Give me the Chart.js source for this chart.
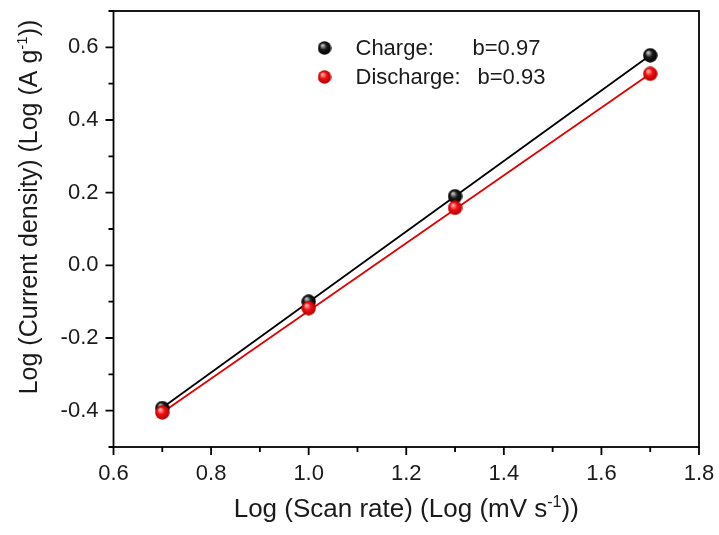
<!DOCTYPE html>
<html lang="en">
  <head>
    <meta charset="UTF-8">
    <title>Log current density vs log scan rate</title>
    <script src="https://cdn.jsdelivr.net/npm/chart.js@4.4.1/dist/chart.umd.min.js"></script>
    <style>
      html, body { margin: 0; padding: 0; background: #fff; }
      #wrap { width: 719px; height: 535px; }
    </style>
  </head>
  <body>
    <div id="wrap"><canvas id="chart" width="719" height="535"></canvas></div>
    <script>
    // values
    const logScanRate = [0.7, 1.0, 1.3, 1.7];
    const chargeVals = [-0.393, -0.100, 0.190, 0.578];
    const dischargeVals = [-0.405, -0.118, 0.158, 0.527];

    // fitted lines (end points)
    const fitX = [0.7, 1.7];
    const chargeFit = [-0.392, 0.578];
    const dischargeFit = [-0.405, 0.527];

    const legendLabels = ['Charge:', 'Discharge:'];
    const legendSlopes = ['b=0.97', 'b=0.93'];

    // axis titles, [normal, superscript, normal]
    const xTitle = ['Log (Scan rate) (Log (mV s', '-1', '))'];
    const yTitle = ['Log (Current density) (Log (A g', '-1', '))'];

    const FONT = '"Liberation Sans", Arial, sans-serif';
    const TEXT = '#1a1a1a';

    function sphere(size, light, mid, dark) {
      const c = document.createElement('canvas');
      c.width = size; c.height = size;
      const g = c.getContext('2d');
      const r = size / 2;
      const grad = g.createRadialGradient(r * 0.7, r * 0.6, 0.5, r, r, r);
      grad.addColorStop(0, light);
      grad.addColorStop(0.45, mid);
      grad.addColorStop(1, dark);
      g.fillStyle = grad;
      g.beginPath();
      g.arc(r, r, r - 0.3, 0, Math.PI * 2);
      g.fill();
      return c;
    }

    const blackBall = sphere(15, '#c8c8c8', '#1a1a1a', '#000');
    const redBall = sphere(15, '#ffb8b8', '#f01010', '#b00000');
    const blackBallSm = sphere(14, '#c8c8c8', '#1a1a1a', '#000');
    const redBallSm = sphere(14, '#ffb8b8', '#f01010', '#b00000');

    function toXY(xs, ys) {
      return xs.map((x, i) => ({ x: x, y: ys[i] }));
    }

    function tickLabel(value) {
      const t = Math.round(value * 10);
      if (t % 2 !== 0) return '';
      return (t / 10).toFixed(1);
    }

    // text with one superscript, centred on (cx, cy)
    function supText(ctx, parts, cx, cy, size) {
      const big = size + 'px ' + FONT;
      const small = Math.round(size * 0.6) + 'px ' + FONT;
      ctx.font = big;
      const w0 = ctx.measureText(parts[0]).width;
      const w2 = ctx.measureText(parts[2]).width;
      ctx.font = small;
      const w1 = ctx.measureText(parts[1]).width;
      let x = cx - (w0 + w1 + w2) / 2;
      const base = cy + size * 0.36;
      ctx.textBaseline = 'alphabetic';
      ctx.textAlign = 'left';
      ctx.font = big;
      ctx.fillText(parts[0], x, base);
      x += w0;
      ctx.font = small;
      ctx.fillText(parts[1], x, base - size * 0.4);
      x += w1;
      ctx.font = big;
      ctx.fillText(parts[2], x, base);
    }

    // box, outward ticks, titles and legend
    const framePlugin = {
      id: 'frame',
      afterDraw(chart) {
        const ctx = chart.ctx;
        const a = chart.chartArea;
        const xs = chart.scales.x, ys = chart.scales.y;
        ctx.save();
        ctx.strokeStyle = '#000';
        ctx.lineWidth = 1.8;
        ctx.strokeRect(a.left, a.top, a.right - a.left, a.bottom - a.top);
        ctx.beginPath();
        xs.ticks.forEach(t => {
          const px = xs.getPixelForValue(t.value);
          const len = Math.round(t.value * 10) % 2 === 0 ? 8 : 5;
          ctx.moveTo(px, a.bottom);
          ctx.lineTo(px, a.bottom + len);
        });
        ys.ticks.forEach(t => {
          const py = ys.getPixelForValue(t.value);
          const len = Math.round(t.value * 10) % 2 === 0 ? 8 : 5;
          ctx.moveTo(a.left, py);
          ctx.lineTo(a.left - len, py);
        });
        ctx.stroke();

        ctx.fillStyle = TEXT;
        // x title
        supText(ctx, xTitle, (a.left + a.right) / 2, 508, 26);
        // y title, rotated
        ctx.save();
        ctx.translate(28, 207);
        ctx.rotate(-Math.PI / 2);
        supText(ctx, yTitle, 0, 0, 25);
        ctx.restore();

        // legend
        const balls = [blackBallSm, redBallSm];
        const lx = a.left + 211;
        ctx.font = '22px ' + FONT;
        ctx.textBaseline = 'middle';
        ctx.textAlign = 'left';
        legendLabels.forEach((lab, i) => {
          const ly = a.top + 38 + i * 29;
          ctx.drawImage(balls[i], lx - 7, ly - 8);
          ctx.fillText(lab, lx + 31, ly);
          ctx.fillText(legendSlopes[i], lx + (i === 0 ? 148 : 153), ly);
        });
        ctx.restore();
      }
    };

    const ctx = document.getElementById('chart').getContext('2d');
    new Chart(ctx, {
      type: 'scatter',
      data: {
        datasets: [
          {
            label: 'Charge fit',
            type: 'line',
            data: toXY(fitX, chargeFit),
            borderColor: '#000',
            borderWidth: 1.8,
            pointRadius: 0,
            order: 3
          },
          {
            label: 'Discharge fit',
            type: 'line',
            data: toXY(fitX, dischargeFit),
            borderColor: '#e00000',
            borderWidth: 1.8,
            pointRadius: 0,
            order: 2
          },
          {
            label: 'Charge',
            data: toXY(logScanRate, chargeVals),
            pointStyle: blackBall,
            order: 1
          },
          {
            label: 'Discharge',
            data: toXY(logScanRate, dischargeVals),
            pointStyle: redBall,
            order: 0
          }
        ]
      },
      options: {
        responsive: false,
        animation: false,
        layout: { padding: { top: 11, right: 20, left: 0, bottom: 0 } },
        plugins: {
          legend: { display: false },
          tooltip: { enabled: false }
        },
        scales: {
          x: {
            type: 'linear',
            min: 0.6,
            max: 1.8,
            grid: { display: false, drawTicks: false },
            border: { display: false },
            ticks: {
              stepSize: 0.1,
              autoSkip: false,
              maxRotation: 0,
              padding: 14,
              color: TEXT,
              font: { family: FONT, size: 22 },
              callback: tickLabel
            },
            afterFit(scale) {
              scale.height = 88;
              scale.paddingLeft = 0;
              scale.paddingRight = 0;
            }
          },
          y: {
            type: 'linear',
            min: -0.5,
            max: 0.7,
            grid: { display: false, drawTicks: false },
            border: { display: false },
            ticks: {
              stepSize: 0.1,
              autoSkip: false,
              padding: 15,
              color: TEXT,
              font: { family: FONT, size: 22 },
              callback: tickLabel
            },
            afterFit(scale) {
              scale.width = 113.5;
              scale.paddingTop = 0;
              scale.paddingBottom = 0;
            }
          }
        }
      },
      plugins: [framePlugin]
    });
    </script>
  </body>
</html>
